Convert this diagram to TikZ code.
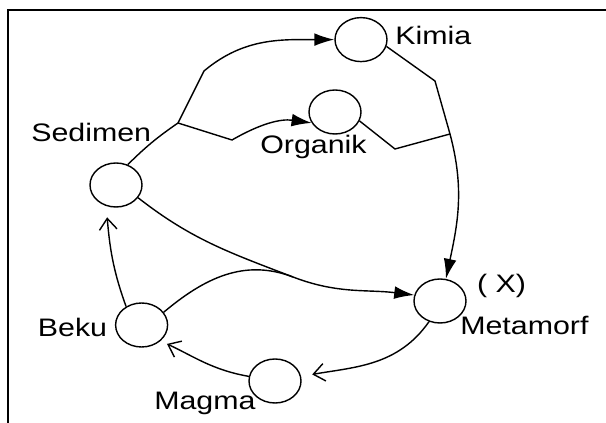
\documentclass[tikz,border=0pt]{standalone}
\usepackage{fontspec}
\setmainfont{Liberation Sans}[FakeStretch=1.2]
\usetikzlibrary{shapes.geometric, arrows.meta}

\begin{document}
\begin{tikzpicture}[
        rock/.style = {shape = ellipse, draw = black, line width = 1pt, minimum width = 1.3cm, minimum height = 1.1cm, inner sep = 0pt},
        lbl/.style = {anchor = base west, inner sep = 0pt, font = \fontsize{18}{21}\selectfont},
        line/.style = {line width = 1pt},
        fillarrow/.style = {line, -{Latex[length = 5mm, width = 3.2mm]}},
        openarrow/.style = {line, -{Straight Barb[length = 2.8mm, width = 4.4mm]}}
    ]
                    \useasboundingbox (0, 0) rectangle (15.15, -10.575);
                    \draw [line width = 1.5pt] (0.21, -10.575) -- (0.21, -0.255) -- (15.15, -0.255);

                    \node [rock] (kimia) at (9.025, -0.99) {};
                    \node [rock] (organik) at (8.375, -2.8) {};
                    \node [rock] (sedimen) at (2.9, -4.625) {};
                    \node [rock] (beku) at (3.54, -8.125) {};
                    \node [rock] (metamorf) at (11.0, -7.525) {};
                    \node [rock] (magma) at (6.875, -9.525) {};

                    \node [lbl] (kimiaText) at (9.875, -1.108) {Kimia};
                    \node [lbl] (organikText) at (6.5, -3.85) {Organik};
                    \node [lbl] (sedimenText) at (0.775, -3.54) {Sedimen};
                    \node [lbl] (bekuText) at (0.94, -8.42) {Beku};
                    \node [lbl] (xText) at (11.92, -7.32) {( X)};
                    \node [lbl] (metamorfText) at (11.5, -8.375) {Metamorf};
                    \node [lbl] (magmaText) at (3.85, -10.23) {Magma};

                    \coordinate (fork) at (4.45, -3.075);
                    \coordinate (kimiaKnee) at (5.1, -1.775);
                    \coordinate (organikKnee) at (5.8, -3.5);
                    \coordinate (kimiaBend) at (10.875, -2.025);
                    \coordinate (organikBend) at (9.875, -3.725);
                    \coordinate (join) at (11.25, -3.35);
                    \coordinate (merge) at (7.325, -6.925);

                    \draw [line] (sedimen.60) to [bend left = 5] (fork);
                    \draw [fillarrow] (fork) -- (kimiaKnee) to [out = 40, in = 180] (kimia.west);
                    \draw [fillarrow] (fork) -- (organikKnee) to [out = 30, in = 172] (organik.205);
                    \draw [line] (kimia.-15) -- (kimiaBend) -- (join);
                    \draw [line] (organik.-20) -- (organikBend) -- (join);
                    \draw [fillarrow] (join) to [out = -75, in = 78] (metamorf.75);

                    \draw [fillarrow] (sedimen.-30) to [out = -38, in = 159] (merge) to [out = -21, in = 173] (metamorf.167);
                    \draw [line] (beku.30) to [out = 40, in = 159] (merge);
                    \draw [openarrow, shorten > = 8pt] (metamorf.-118) to [out = -125, in = 10] (magma.10);
                    \draw [openarrow, shorten > = 5pt] (magma.170) to [out = 170, in = -25] (beku.-40);
                    \draw [openarrow, shorten > = 8pt] (beku.130) to [out = 110, in = -85] (sedimen.-115);
                \end{tikzpicture}
\end{document}
